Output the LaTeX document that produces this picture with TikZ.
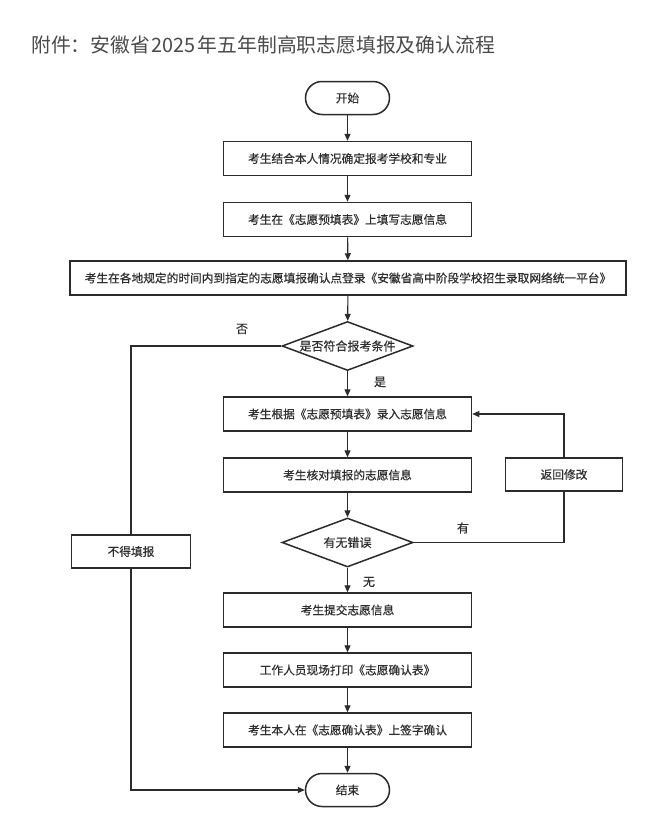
\documentclass[tikz,border=0pt]{standalone}
\usepackage{fontspec}
\setmainfont{Noto Sans CJK SC}
\newfontfamily\boxfont[FakeBold=0.4]{Noto Sans CJK SC}
\usetikzlibrary{arrows.meta,shapes.geometric}
\definecolor{ln}{HTML}{2B2B2B}
\definecolor{tx}{HTML}{2E2E2E}
\definecolor{tt}{HTML}{4A4A4A}
\begin{document}
\begin{tikzpicture}[x=1pt,y=-1pt,
  box/.style={draw=ln, line width=1.5pt, fill=white, minimum height=34pt, inner sep=0pt, text=tx, font=\boxfont\fontsize{11.7}{14}\selectfont},
  mainbox/.style={box, minimum width=248pt},
  term/.style={box, rounded corners=16.5pt, minimum width=84pt, minimum height=33pt},
  dia/.style={draw=ln, line width=1.5pt, fill=white, diamond, minimum width=131pt, minimum height=49pt, inner sep=0pt},
  conn/.style={draw=ln, line width=1.1pt},
  arr/.style={conn, -{Triangle[length=7pt,width=6pt]}},
  lab/.style={text=tx, font=\boxfont\fontsize{12}{14}\selectfont, inner sep=0pt}
]
\useasboundingbox[fill=white] (0,0) rectangle (649,825);

\node[anchor=west, text=tt, font=\fontsize{19.8}{24}\selectfont, inner sep=0pt] (title) at (31,45)
  {附件：安徽省\hspace{2pt}2025\hspace{2pt}年五年制高职志愿填报及确认流程};

\node[term] (start) at (347.5,98) {开始};
\node[mainbox] (b1) at (347.5,158.5) {考生结合本人情况确定报考学校和专业};
\node[mainbox] (b2) at (347.5,219.5) {考生在《志愿预填表》上填写志愿信息};
\node[box, minimum width=556pt] (b3) at (348,278) {考生在各地规定的时间内到指定的志愿填报确认点登录《安徽省高中阶段学校招生录取网络统一平台》};
\node[dia, label={[lab]center:是否符合报考条件}] (d1) at (347.5,346) {};
\node[mainbox] (b4) at (347.5,414) {考生根据《志愿预填表》录入志愿信息};
\node[mainbox] (b5) at (347.5,475) {考生核对填报的志愿信息};
\node[dia, label={[lab]center:有无错误}] (d2) at (347.5,542.5) {};
\node[mainbox] (b6) at (347.5,610) {考生提交志愿信息};
\node[mainbox] (b7) at (347.5,670) {工作人员现场打印《志愿确认表》};
\node[mainbox] (b8) at (347.5,730) {考生本人在《志愿确认表》上签字确认};
\node[term] (end) at (347.5,790) {结束};
\node[box, minimum width=119pt, minimum height=33pt] (nf) at (131,551.5) {不得填报};
\node[box, minimum width=117pt, minimum height=33pt] (rb) at (564,474.5) {返回修改};

\draw[arr] (start) -- (b1);
\draw[arr] (b1) -- (b2);
\draw[arr] (b2) -- (b3);
\draw[arr] (b3) -- (d1);
\draw[arr] (d1) -- (b4);
\draw[arr] (b4) -- (b5);
\draw[arr] (b5) -- (d2);
\draw[arr] (d2) -- (b6);
\draw[arr] (b6) -- (b7);
\draw[arr] (b7) -- (b8);
\draw[arr] (b8) -- (end);

\draw[conn] (d1.west) -| (nf.north);
\draw[arr] (nf.south) |- (end.west);
\draw[conn] (d2.east) -| (rb.south);
\draw[arr] (rb.north) |- (b4.east);

\node[lab] (lno) at (242,329) {否};
\node[lab] (lyes) at (380,382) {是};
\node[lab] (lhave) at (463,528) {有};
\node[lab] (lnone) at (369,582) {无};
\end{tikzpicture}
\end{document}
